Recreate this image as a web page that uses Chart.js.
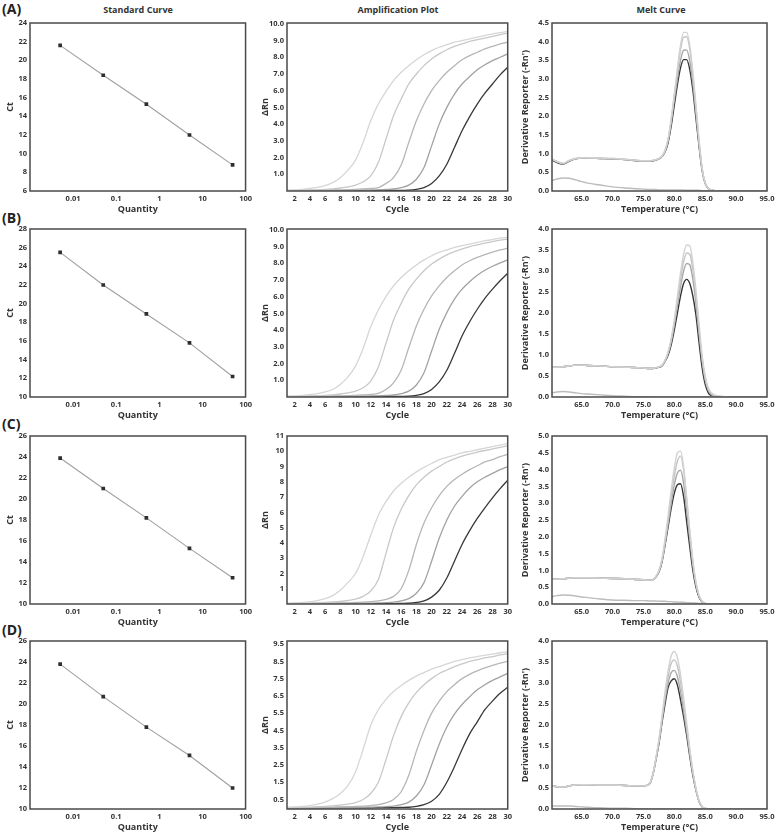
<!DOCTYPE html>
<html>
<head>
<meta charset="utf-8">
<script src="https://cdn.jsdelivr.net/npm/chart.js@4.4.1/dist/chart.umd.min.js"></script>
<style>
  body { margin: 0; background: #fff; }
  #page { position: relative; width: 778px; height: 836px; overflow: hidden; font-family: "Open Sans", sans-serif; color: #222; }
  #page canvas { position: absolute; }
  .panel { position: absolute; left: 2px; font-weight: bold; font-size: 14px; line-height: 16px; }
  .head { position: absolute; top: 4px; font-weight: bold; font-size: 9px; line-height: 12px; transform: translateX(-50%); white-space: nowrap; color: #333; }
</style>
</head>
<body>
<div id="page">
  <div class="panel" style="top:1px">(A)</div>
  <div class="panel" style="top:210px">(B)</div>
  <div class="panel" style="top:416px">(C)</div>
  <div class="panel" style="top:622px">(D)</div>
  <div class="head" style="left:138px">Standard Curve</div>
  <div class="head" style="left:398px">Amplification Plot</div>
  <div class="head" style="left:661px">Melt Curve</div>
</div>
<script>
// ---- standard curves ----
const quantities = [0.005, 0.05, 0.5, 5, 50];
const qtyTicks = [0.01, 0.1, 1, 10, 100];
const ctA = [21.6, 18.4, 15.3, 12.0, 8.8];
const ctB = [25.5, 22.0, 18.9, 15.8, 12.2];
const ctC = [23.9, 21.0, 18.2, 15.3, 12.5];
const ctD = [23.8, 20.7, 17.8, 15.1, 12.0];
const ctTicksA = [6, 8, 10, 12, 14, 16, 18, 20, 22, 24];
const ctTicksB = [10, 12, 14, 16, 18, 20, 22, 24, 26, 28];
const ctTicksC = [10, 12, 14, 16, 18, 20, 22, 24, 26];
const ctTicksD = [10, 12, 14, 16, 18, 20, 22, 24, 26];

// ---- amplification plots ----
const cycles = [1, 2, 3, 4, 5, 6, 7, 8, 9, 10, 11, 12, 13, 14, 15, 16, 17, 18, 19, 20, 21, 22, 23, 24, 25, 26, 27, 28, 29, 30];
const cycleTicks = [2, 4, 6, 8, 10, 12, 14, 16, 18, 20, 22, 24, 26, 28, 30];

const ampA1 = [0.05,0.07,0.1,0.15,0.22,0.32,0.5,0.8,1.25,1.85,2.9,4.2,5.2,5.95,6.6,7.1,7.5,7.85,8.15,8.4,8.6,8.75,8.9,9.0,9.1,9.2,9.3,9.4,9.47,9.55];
const ampA2 = [0.03,0.04,0.05,0.06,0.08,0.1,0.13,0.18,0.25,0.35,0.55,0.9,1.7,3.1,4.5,5.5,6.4,7.0,7.5,7.9,8.2,8.45,8.65,8.8,8.95,9.05,9.15,9.25,9.35,9.45];
const ampA3 = [0.02,0.02,0.03,0.03,0.04,0.05,0.06,0.07,0.08,0.1,0.12,0.15,0.2,0.45,0.8,1.55,2.9,4.2,5.2,6.0,6.6,7.1,7.5,7.85,8.1,8.3,8.5,8.65,8.8,8.9];
const ampA4 = [0.02,0.02,0.02,0.02,0.03,0.03,0.03,0.04,0.04,0.05,0.05,0.06,0.07,0.09,0.12,0.2,0.35,0.7,1.4,2.7,4.0,5.0,5.8,6.4,6.85,7.25,7.55,7.8,8.0,8.2];
const ampA5 = [0.01,0.01,0.01,0.01,0.01,0.01,0.01,0.02,0.02,0.02,0.02,0.02,0.03,0.03,0.03,0.04,0.05,0.1,0.2,0.45,0.9,1.6,2.6,3.6,4.45,5.2,5.85,6.4,6.95,7.4];

const ampB1 = [0.05,0.07,0.1,0.14,0.2,0.3,0.45,0.75,1.2,1.85,2.9,4.2,5.2,6.0,6.65,7.15,7.55,7.9,8.2,8.45,8.65,8.8,8.95,9.05,9.15,9.25,9.35,9.42,9.5,9.55];
const ampB2 = [0.03,0.04,0.05,0.06,0.08,0.1,0.13,0.18,0.25,0.35,0.55,0.95,1.8,3.2,4.6,5.6,6.45,7.05,7.55,7.95,8.25,8.5,8.7,8.85,9.0,9.1,9.2,9.3,9.38,9.45];
const ampB3 = [0.02,0.02,0.03,0.03,0.04,0.05,0.06,0.07,0.08,0.1,0.12,0.15,0.22,0.45,0.85,1.6,2.95,4.25,5.25,6.05,6.65,7.15,7.55,7.9,8.15,8.35,8.52,8.67,8.8,8.9];
const ampB4 = [0.02,0.02,0.02,0.02,0.03,0.03,0.03,0.04,0.04,0.05,0.05,0.06,0.07,0.09,0.12,0.2,0.35,0.72,1.45,2.75,4.05,5.05,5.85,6.45,6.9,7.28,7.58,7.82,8.02,8.2];
const ampB5 = [0.01,0.01,0.01,0.01,0.01,0.01,0.01,0.02,0.02,0.02,0.02,0.02,0.03,0.03,0.03,0.04,0.05,0.1,0.2,0.45,0.9,1.6,2.6,3.65,4.5,5.25,5.9,6.45,6.95,7.4];

const ampC1 = [0.05,0.07,0.1,0.15,0.22,0.35,0.55,0.9,1.4,2.0,3.1,4.5,5.8,6.7,7.4,7.9,8.3,8.65,8.95,9.2,9.45,9.6,9.75,9.9,10.0,10.1,10.2,10.3,10.4,10.5];
const ampC2 = [0.03,0.04,0.05,0.06,0.08,0.1,0.13,0.17,0.23,0.32,0.5,0.85,1.6,3.3,5.0,6.2,7.1,7.8,8.3,8.7,9.0,9.3,9.5,9.68,9.82,9.95,10.05,10.15,10.25,10.35];
const ampC3 = [0.02,0.02,0.03,0.03,0.04,0.05,0.06,0.07,0.08,0.1,0.12,0.15,0.2,0.3,0.5,1.0,2.2,3.9,5.3,6.3,7.1,7.7,8.15,8.5,8.8,9.05,9.3,9.45,9.65,9.8];
const ampC4 = [0.02,0.02,0.02,0.02,0.03,0.03,0.03,0.04,0.04,0.05,0.05,0.06,0.07,0.09,0.12,0.2,0.35,0.7,1.4,2.8,4.3,5.5,6.4,7.05,7.6,8.0,8.3,8.55,8.8,9.0];
const ampC5 = [0.01,0.01,0.01,0.01,0.01,0.01,0.01,0.02,0.02,0.02,0.02,0.02,0.03,0.03,0.03,0.04,0.05,0.1,0.2,0.45,0.9,1.7,2.8,3.9,4.8,5.6,6.3,6.95,7.55,8.1];

const ampD1 = [0.05,0.07,0.1,0.15,0.23,0.35,0.55,0.85,1.3,2.1,3.4,4.8,5.7,6.3,6.75,7.1,7.4,7.65,7.85,8.05,8.2,8.35,8.5,8.6,8.7,8.78,8.85,8.92,9.0,9.05];
const ampD2 = [0.03,0.04,0.05,0.06,0.08,0.1,0.13,0.17,0.23,0.32,0.5,0.85,1.5,2.8,4.2,5.3,6.1,6.7,7.15,7.5,7.8,8.0,8.2,8.35,8.5,8.6,8.7,8.78,8.87,8.95];
const ampD3 = [0.02,0.02,0.03,0.03,0.04,0.05,0.06,0.07,0.08,0.1,0.12,0.15,0.2,0.3,0.5,0.95,1.9,3.3,4.5,5.5,6.2,6.75,7.15,7.5,7.75,7.95,8.12,8.27,8.4,8.5];
const ampD4 = [0.02,0.02,0.02,0.02,0.03,0.03,0.03,0.04,0.04,0.05,0.05,0.06,0.07,0.09,0.12,0.2,0.35,0.7,1.35,2.5,3.7,4.7,5.45,6.0,6.45,6.85,7.15,7.4,7.6,7.8];
const ampD5 = [0.01,0.01,0.01,0.01,0.01,0.01,0.01,0.02,0.02,0.02,0.02,0.02,0.03,0.03,0.03,0.04,0.05,0.1,0.2,0.4,0.8,1.5,2.4,3.4,4.3,5.0,5.7,6.2,6.65,7.0];

const ampTicksA = [1, 2, 3, 4, 5, 6, 7, 8, 9, 10];
const ampTicksB = [1, 2, 3, 4, 5, 6, 7, 8, 9, 10];
const ampTicksC = [1, 2, 3, 4, 5, 6, 7, 8, 9, 10, 11];
const ampTicksD = [0.5, 1.5, 2.5, 3.5, 4.5, 5.5, 6.5, 7.5, 8.5, 9.5];

// ---- melt curves ----
const temps = [60.2,61,62,63,64,65,66,68,70,72,74,75,76,76.5,77,77.5,78,78.5,79,79.5,80,80.5,81,81.5,82,82.5,83,83.5,84,84.5,85,85.5,86,86.5,87,88,90,95];
const tempTicks = [65, 70, 75, 80, 85, 90, 95];

const meltA0 = [.28,.32,.35,.34,.30,.25,.21,.16,.11,.08,.06,.05,.04,.04,.04,.03,.03,.03,.03,.03,.03,.03,.03,.03,.02,.02,.02,.02,.02,.01,.01,.01,.01,0,0,0,0,0];
const meltA1 = [.86,.79,.74,.82,.87,.89,.89,.88,.87,.85,.82,.81,.81,.82,.84,.87,.94,1.1,1.4,1.95,2.6,3.3,3.9,4.25,4.25,3.9,3.2,2.3,1.38,.62,.22,.08,.03,.01,0,0,0,0];
const meltA2 = [.86,.79,.74,.82,.87,.89,.89,.88,.87,.85,.82,.81,.81,.82,.84,.87,.93,1.08,1.38,1.9,2.55,3.2,3.78,4.12,4.13,3.8,3.1,2.22,1.33,.6,.21,.07,.03,.01,0,0,0,0];
const meltA3 = [.85,.78,.73,.81,.86,.88,.88,.87,.86,.84,.81,.80,.80,.81,.83,.86,.93,1.07,1.35,1.85,2.45,3.0,3.5,3.77,3.78,3.48,2.88,2.08,1.26,.57,.2,.07,.02,.01,0,0,0,0];
const meltA4 = [.83,.76,.72,.80,.86,.88,.88,.87,.86,.84,.81,.80,.80,.81,.83,.86,.92,1.05,1.3,1.75,2.3,2.85,3.3,3.52,3.52,3.25,2.7,1.95,1.2,.55,.2,.07,.02,.01,0,0,0,0];

const meltB0 = [.10,.12,.13,.12,.10,.08,.07,.05,.03,.02,.01,.01,.01,0,0,0,0,0,0,0,0,0,0,0,0,0,0,0,0,0,0,0,0,0,0,0,0,0];
const meltB1 = [.72,.71,.72,.74,.76,.76,.75,.74,.72,.71,.70,.69,.68,.68,.7,.72,.76,.88,1.08,1.4,1.85,2.4,2.95,3.4,3.62,3.6,3.2,2.55,1.75,1.0,.5,.22,.1,.05,.03,.01,0,0];
const meltB2 = [.72,.71,.72,.74,.76,.76,.75,.74,.72,.71,.70,.69,.68,.68,.7,.72,.75,.87,1.06,1.36,1.78,2.3,2.8,3.22,3.43,3.4,3.02,2.4,1.65,.93,.45,.19,.08,.04,.02,.01,0,0];
const meltB3 = [.72,.71,.72,.74,.76,.76,.75,.74,.72,.71,.70,.69,.68,.68,.69,.71,.75,.86,1.04,1.32,1.72,2.18,2.62,3.0,3.18,3.15,2.8,2.22,1.52,.86,.4,.16,.06,.03,.01,0,0,0];
const meltB4 = [.72,.71,.72,.74,.76,.76,.75,.74,.72,.71,.70,.69,.68,.68,.69,.71,.74,.85,1.0,1.25,1.6,2.0,2.4,2.7,2.8,2.7,2.4,1.95,1.3,.7,.3,.1,.03,.01,0,0,0,0];

const meltC0 = [.22,.25,.27,.26,.24,.21,.19,.15,.12,.11,.10,.10,.09,.09,.09,.08,.08,.08,.07,.07,.06,.06,.05,.05,.04,.04,.03,.03,.02,.02,.01,.01,0,0,0,0,0,0];
const meltC1 = [.74,.74,.75,.77,.78,.78,.78,.77,.76,.75,.73,.72,.71,.72,.82,1.0,1.35,1.95,2.65,3.4,4.05,4.5,4.55,4.1,3.15,2.2,1.3,.65,.26,.08,.02,0,0,0,0,0,0,0];
const meltC2 = [.74,.74,.75,.77,.78,.78,.78,.77,.76,.75,.73,.72,.71,.72,.81,.98,1.3,1.85,2.5,3.2,3.8,4.25,4.4,4.0,3.1,2.15,1.27,.63,.25,.08,.02,0,0,0,0,0,0,0];
const meltC3 = [.74,.74,.75,.77,.78,.78,.78,.77,.76,.75,.73,.72,.71,.72,.8,.97,1.28,1.8,2.4,3.0,3.55,3.9,3.98,3.6,2.8,1.95,1.15,.57,.23,.07,.02,0,0,0,0,0,0,0];
const meltC4 = [.74,.74,.75,.77,.78,.78,.78,.77,.76,.75,.73,.72,.71,.72,.8,.95,1.25,1.75,2.3,2.85,3.3,3.55,3.58,3.2,2.45,1.7,1.0,.5,.2,.06,.01,0,0,0,0,0,0,0];

const meltD0 = [.07,.07,.07,.07,.06,.05,.04,.03,.02,.02,.01,.01,0,0,0,0,0,0,0,0,0,0,0,0,0,0,0,0,0,0,0,0,0,0,0,0,0,0];
const meltD1 = [.55,.53,.52,.55,.57,.58,.58,.57,.57,.56,.55,.55,.61,.82,1.2,1.65,2.2,2.8,3.3,3.65,3.75,3.6,3.2,2.65,2.05,1.45,.92,.5,.2,.06,.02,0,0,0,0,0,0,0];
const meltD2 = [.55,.53,.52,.55,.57,.58,.58,.57,.57,.56,.55,.55,.61,.81,1.18,1.62,2.15,2.7,3.15,3.47,3.55,3.4,3.02,2.5,1.95,1.38,.88,.48,.19,.06,.02,0,0,0,0,0,0,0];
const meltD3 = [.55,.53,.52,.55,.57,.58,.58,.57,.57,.56,.55,.55,.6,.8,1.16,1.58,2.1,2.6,3.0,3.25,3.3,3.15,2.8,2.35,1.85,1.32,.85,.46,.18,.05,.01,0,0,0,0,0,0,0];
const meltD4 = [.55,.53,.52,.55,.57,.58,.58,.57,.57,.56,.55,.55,.6,.8,1.15,1.55,2.05,2.5,2.9,3.05,3.1,2.95,2.6,2.2,1.75,1.25,.8,.45,.18,.05,.01,0,0,0,0,0,0,0];

const meltTicksA = [0, 0.5, 1, 1.5, 2, 2.5, 3, 3.5, 4, 4.5];
const meltTicksB = [0, 0.5, 1, 1.5, 2, 2.5, 3, 3.5, 4];
const meltTicksC = [0, 0.5, 1, 1.5, 2, 2.5, 3, 3.5, 4, 4.5, 5];
const meltTicksD = [0, 0.5, 1, 1.5, 2, 2.5, 3, 3.5, 4];

// ---- layout ----
const plotTops = [23, 229, 436, 641];
const PLOT_H = 168, PAD_TOP = 8, XAXIS_H = 28;
const cols = [
  { left: 0, width: 255, yw: 30, pr: 9 },
  { left: 255, width: 260, yw: 32, pr: 6 },
  { left: 515, width: 263, yw: 37, pr: 11 }
];
const ampColors = ["#d6d6d6", "#c8c8c8", "#b6b6b6", "#a2a2a2", "#383838"];
const meltColors = ["#bcbcbc", "#d2d2d2", "#c4c4c4", "#a8a8a8", "#353535"];

const tickFont = { family: "'Open Sans', sans-serif", size: 7.5, weight: "bold" };
const titleFont = { family: "'Open Sans', sans-serif", size: 9, weight: "bold" };
const ink = "#333";

const frame = {
  id: "frame",
  afterDatasetsDraw(chart) {
    const a = chart.chartArea, ctx = chart.ctx;
    ctx.save();
    ctx.strokeStyle = "#4a4a4a";
    ctx.lineWidth = 1.5;
    ctx.strokeRect(a.left, a.top, a.right - a.left, a.bottom - a.top);
    ctx.restore();
  }
};

function makeCanvas(row, col) {
  const c = cols[col];
  const cv = document.createElement("canvas");
  cv.width = c.width;
  cv.height = PAD_TOP + PLOT_H + XAXIS_H;
  cv.style.left = c.left + "px";
  cv.style.top = (plotTops[row] - PAD_TOP) + "px";
  cv.style.width = c.width + "px";
  cv.style.height = cv.height + "px";
  document.getElementById("page").appendChild(cv);
  return cv;
}

function axis(type, min, max, ticks, fmt, title, size, isX) {
  return {
    type, min, max, bounds: "data",
    afterFit: s => { if (isX) s.height = size; else s.width = size; },
    afterBuildTicks: s => { s.ticks = ticks.map(v => ({ value: v })); },
    ticks: { callback: fmt, font: tickFont, color: ink, padding: 3, autoSkip: false, maxRotation: 0 },
    grid: { display: false, drawTicks: false },
    border: { display: false },
    title: { display: true, text: title, font: titleFont, color: ink, padding: isX ? { top: 0, bottom: 4 } : { top: 5, bottom: 0 } }
  };
}

function baseOptions(row, col, x, y) {
  const c = cols[col];
  return {
    responsive: false,
    animation: false,
    events: [],
    layout: { padding: { top: PAD_TOP, right: c.pr, left: 0, bottom: 0 } },
    plugins: { legend: { display: false }, tooltip: { enabled: false } },
    scales: { x, y }
  };
}

function stdChart(row, ct, yMin, yMax, yTicks) {
  const cv = makeCanvas(row, 0);
  new Chart(cv, {
    type: "line",
    data: {
      datasets: [{
        data: quantities.map((q, i) => ({ x: q, y: ct[i] })),
        borderColor: "#a0a0a0",
        borderWidth: 1.1,
        pointStyle: "rect",
        pointRadius: 2.6,
        pointBackgroundColor: "#2e2e2e",
        pointBorderColor: "#2e2e2e",
        pointBorderWidth: 0
      }]
    },
    options: baseOptions(row, 0,
      axis("logarithmic", 0.001, 100, qtyTicks, v => String(v), "Quantity", XAXIS_H, true),
      axis("linear", yMin, yMax, yTicks, v => String(v), "Ct", cols[0].yw, false)),
    plugins: [frame]
  });
}

function ampChart(row, groups, yMin, yMax, yTicks, dec) {
  const cv = makeCanvas(row, 1);
  new Chart(cv, {
    type: "line",
    data: {
      datasets: groups.map((g, k) => ({
        data: cycles.map((c, i) => ({ x: c, y: g[i] })),
        borderColor: ampColors[k],
        borderWidth: 1.3,
        pointRadius: 0,
        cubicInterpolationMode: "monotone"
      }))
    },
    options: baseOptions(row, 1,
      axis("linear", 1, 30, cycleTicks, v => String(v), "Cycle", XAXIS_H, true),
      axis("linear", yMin, yMax, yTicks, v => v.toFixed(dec), "\u0394Rn", cols[1].yw, false)),
    plugins: [frame]
  });
}

function meltChart(row, curves, yMax, yTicks) {
  const cv = makeCanvas(row, 2);
  new Chart(cv, {
    type: "line",
    data: {
      datasets: curves.map((m, k) => ({
        data: temps.map((t, i) => ({ x: t, y: m[i] })),
        borderColor: meltColors[k],
        borderWidth: 1.4,
        pointRadius: 0,
        cubicInterpolationMode: "monotone"
      }))
    },
    options: baseOptions(row, 2,
      axis("linear", 60.2, 95, tempTicks, v => v.toFixed(1), "Temperature (\u00B0C)", XAXIS_H, true),
      axis("linear", 0, yMax, yTicks, v => v.toFixed(1), "Derivative Reporter (-Rn')", cols[2].yw, false)),
    plugins: [frame]
  });
}

stdChart(0, ctA, 6, 24, ctTicksA);
stdChart(1, ctB, 10, 28, ctTicksB);
stdChart(2, ctC, 10, 26, ctTicksC);
stdChart(3, ctD, 10, 26, ctTicksD);

ampChart(0, [ampA1, ampA2, ampA3, ampA4, ampA5], 0, 10.05, ampTicksA, 1);
ampChart(1, [ampB1, ampB2, ampB3, ampB4, ampB5], 0, 10.05, ampTicksB, 1);
ampChart(2, [ampC1, ampC2, ampC3, ampC4, ampC5], 0, 11, ampTicksC, 0);
ampChart(3, [ampD1, ampD2, ampD3, ampD4, ampD5], -0.05, 9.68, ampTicksD, 1);

meltChart(0, [meltA0, meltA1, meltA2, meltA3, meltA4], 4.5, meltTicksA);
meltChart(1, [meltB0, meltB1, meltB2, meltB3, meltB4], 4, meltTicksB);
meltChart(2, [meltC0, meltC1, meltC2, meltC3, meltC4], 5, meltTicksC);
meltChart(3, [meltD0, meltD1, meltD2, meltD3, meltD4], 4, meltTicksD);
</script>
</body>
</html>
